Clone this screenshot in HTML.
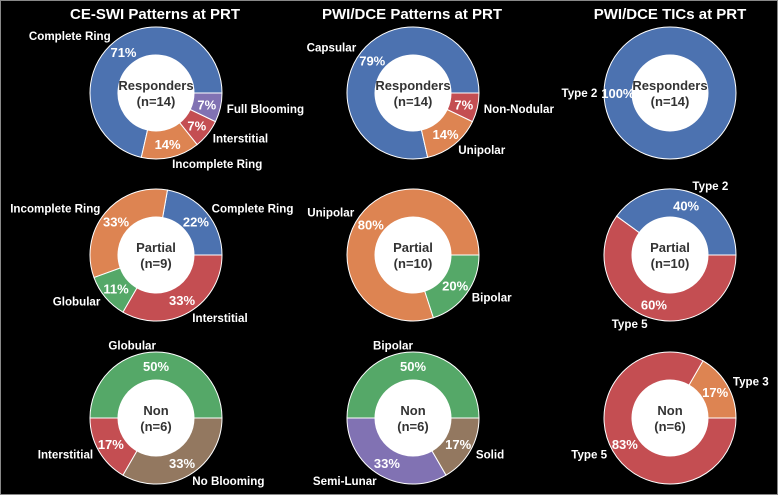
<!DOCTYPE html>
<html><head><meta charset="utf-8">
<style>
html,body{margin:0;padding:0;background:#000;}
svg{display:block;font-family:"Liberation Sans",sans-serif;font-weight:bold;}
</style></head>
<body>
<svg id="chart" width="778" height="495" viewBox="0 0 778 495">
<rect x="0.5" y="0.5" width="777" height="494" fill="#000" stroke="#888" stroke-width="1"/>
<text x="155" y="19" fill="#fff" font-size="15" text-anchor="middle">CE-SWI Patterns at PRT</text>
<text x="412" y="19" fill="#fff" font-size="15" text-anchor="middle">PWI/DCE Patterns at PRT</text>
<text x="670" y="19" fill="#fff" font-size="15" text-anchor="middle">PWI/DCE TICs at PRT</text>
<g id="pies"></g>
</svg>
<script>
const C={blue:"#4c72b0",orange:"#dd8452",green:"#55a868",red:"#c44e52",purple:"#8172b3",brown:"#937860"};
const swiRespLabels=["Complete Ring","Incomplete Ring","Interstitial","Full Blooming"];
const swiRespValues=[10,2,1,1];
const pwiRespLabels=["Capsular","Unipolar","Non-Nodular"];
const pwiRespValues=[11,2,1];
const ticRespLabels=["Type 2"];
const ticRespValues=[14];
const swiPartLabels=["Complete Ring","Incomplete Ring","Globular","Interstitial"];
const swiPartValues=[2,3,1,3];
const pwiPartLabels=["Unipolar","Bipolar"];
const pwiPartValues=[8,2];
const ticPartLabels=["Type 2","Type 5"];
const ticPartValues=[4,6];
const swiNonLabels=["Globular","Interstitial","No Blooming"];
const swiNonValues=[3,1,2];
const pwiNonLabels=["Bipolar","Semi-Lunar","Solid"];
const pwiNonValues=[3,2,1];
const ticNonLabels=["Type 3","Type 5"];
const ticNonValues=[1,5];
const groupNames=["Responders","Partial","Non"];

const pies=[
 {labels:swiRespLabels,values:swiRespValues,colors:[C.blue,C.orange,C.red,C.purple],col:0,row:0},
 {labels:pwiRespLabels,values:pwiRespValues,colors:[C.blue,C.orange,C.red],col:1,row:0},
 {labels:ticRespLabels,values:ticRespValues,colors:[C.blue],col:2,row:0},
 {labels:swiPartLabels,values:swiPartValues,colors:[C.blue,C.orange,C.green,C.red],col:0,row:1},
 {labels:pwiPartLabels,values:pwiPartValues,colors:[C.orange,C.green],col:1,row:1},
 {labels:ticPartLabels,values:ticPartValues,colors:[C.blue,C.red],col:2,row:1},
 {labels:swiNonLabels,values:swiNonValues,colors:[C.green,C.red,C.brown],col:0,row:2},
 {labels:pwiNonLabels,values:pwiNonValues,colors:[C.green,C.purple,C.brown],col:1,row:2},
 {labels:ticNonLabels,values:ticNonValues,colors:[C.orange,C.red],col:2,row:2}
];
const colX=[156,413,670], rowY=[93,255,418], R=66, RI=38;
const NS="http://www.w3.org/2000/svg";
const g=document.getElementById("pies");
function mk(t,a){const e=document.createElementNS(NS,t);for(const k in a)e.setAttribute(k,a[k]);return e;}
function pt(cx,cy,r,a){return [cx+r*Math.cos(a),cy-r*Math.sin(a)];}
pies.forEach(p=>{
 const cx=colX[p.col], cy=rowY[p.row];
 const tot=p.values.reduce((a,b)=>a+b,0);
 let a0=0;
 p.values.forEach((v,i)=>{
  const frac=v/tot, a1=a0+frac*2*Math.PI;
  let el;
  if(frac>=0.9999){
   el=mk("path",{d:`M${cx+R},${cy} A${R},${R} 0 1 0 ${cx-R},${cy} A${R},${R} 0 1 0 ${cx+R},${cy} Z M${cx+RI},${cy} A${RI},${RI} 0 1 1 ${cx-RI},${cy} A${RI},${RI} 0 1 1 ${cx+RI},${cy} Z`,fill:p.colors[i],stroke:"#fff","stroke-width":1,"fill-rule":"evenodd"});
  } else {
   const [x0,y0]=pt(cx,cy,R,a0),[x1,y1]=pt(cx,cy,R,a1),[x2,y2]=pt(cx,cy,RI,a1),[x3,y3]=pt(cx,cy,RI,a0);
   const lg=frac>0.5?1:0;
   el=mk("path",{d:`M${x0},${y0} A${R},${R} 0 ${lg} 0 ${x1},${y1} L${x2},${y2} A${RI},${RI} 0 ${lg} 1 ${x3},${y3} Z`,fill:p.colors[i],stroke:"#fff","stroke-width":1});
  }
  
  
  g.appendChild(el);
  const am=(a0+a1)/2;
  const [lx,ly]=pt(cx,cy,R*1.1,am);
  const lt=mk("text",{x:lx,y:ly+4,fill:"#fff","font-size":11.6,"text-anchor":Math.cos(am)>0.0001?"start":"end"});
  lt.textContent=p.labels[i];
  
  
  g.appendChild(lt);
  const [px,py]=pt(cx,cy,R*0.79,am);
  const pct=mk("text",{x:px,y:py+5,fill:"#fff","font-size":13,"text-anchor":"middle"});
  pct.textContent=Math.round(frac*100)+"%";
  
  
  g.appendChild(pct);
  a0=a1;
 });
 const c=mk("circle",{cx:cx,cy:cy,r:RI,fill:"#fff"});
 
 
 g.appendChild(c);
 const t1=mk("text",{x:cx,y:cy-3,fill:"#333","font-size":13,"text-anchor":"middle"});
 t1.textContent=groupNames[p.row];
 
 
 g.appendChild(t1);
 const t2=mk("text",{x:cx,y:cy+13,fill:"#333","font-size":13,"text-anchor":"middle"});
 t2.textContent="(n="+tot+")";
 
 
 g.appendChild(t2);
});
</script>
</body></html>
